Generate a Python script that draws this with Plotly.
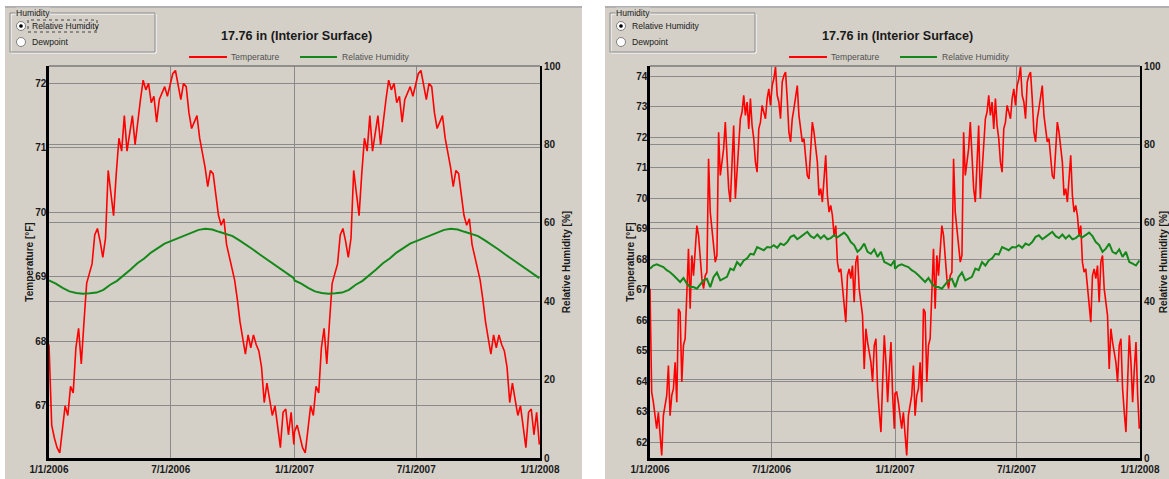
import plotly.graph_objects as go
import pandas as pd

W, H = 1169, 479

# ---------------- data ----------------
title_text = "17.76 in (Interior Surface)"
x_tick_vals = ["2006-01-01", "2006-07-01", "2007-01-01", "2007-07-01", "2008-01-01"]
x_tick_text = ["1/1/2006", "7/1/2006", "1/1/2007", "7/1/2007", "1/1/2008"]

# Left chart: temperature [F], one value every ~4 days
left_temp_2006 = [
    67.95, 66.7, 66.5, 66.35, 66.27, 66.6, 67.0, 66.85, 67.3, 67.2,
    67.9, 68.2, 67.65, 68.3, 68.9, 69.05, 69.2, 69.65, 69.75, 69.55,
    69.3, 69.6, 70.65, 70.3, 69.95, 70.6, 71.15, 70.95, 71.5, 70.95,
    71.2, 71.5, 71.05, 71.45, 71.75, 72.05, 71.9, 72.0, 71.7, 71.8,
    71.4, 71.75, 71.85, 71.95, 71.8, 72.0, 72.15, 72.2, 71.95, 71.75,
    72.0, 71.95, 71.55, 71.3, 71.4, 71.5, 71.15, 70.95, 70.7, 70.4,
    70.65, 70.6, 70.3, 69.95, 69.8, 69.9, 69.5, 69.3, 69.15, 68.95,
    68.65, 68.3, 68.05, 67.8, 68.1, 67.9, 68.1, 67.95, 67.85, 67.6,
    67.05, 67.35, 67.1, 66.85, 67.0, 66.7, 66.35, 66.9, 66.95, 66.55,
    66.9, 66.4,
]
left_temp_2007 = [66.6] + left_temp_2006[1:]

# Left chart: relative humidity [%], one value every ~10 days
left_rh_2006 = [
    45.3, 44.5, 43.4, 42.5, 42.1, 41.9, 42.0, 42.2, 42.9, 44.2,
    45.2, 46.6, 48.1, 49.7, 50.9, 52.4, 53.6, 54.7, 55.4, 56.1,
    56.8, 57.7, 58.2, 58.5, 58.3, 57.7, 57.1, 56.6, 55.5, 54.4,
    53.2, 51.9, 50.7, 49.4, 48.1, 46.9, 45.9,
]
left_rh_2007 = list(left_rh_2006)

# Right chart: temperature [F], one value every ~2.5 days
right_temp_2006 = [
    67.03, 63.64, 63.31, 62.87, 62.44, 62.98, 62.22, 61.56, 62.87, 63.20,
    63.53, 64.51, 62.87, 63.53, 63.75, 64.62, 63.31, 66.37, 66.26, 63.97,
    65.17, 65.39, 67.25, 68.34, 66.37, 68.12, 67.46, 68.45, 69.10, 68.78,
    67.90, 67.36, 67.03, 67.46, 67.57, 71.29, 69.54, 69.00, 68.34, 67.90,
    68.12, 72.16, 70.74, 71.18, 71.62, 72.49, 71.29, 70.31, 69.87, 71.18,
    72.38, 69.98, 70.85, 71.73, 72.60, 72.82, 73.37, 72.71, 73.15, 72.27,
    73.26, 72.38, 71.95, 71.18, 70.85, 72.27, 72.49, 73.04, 72.82, 72.60,
    73.26, 73.58, 73.04, 73.69, 73.91, 74.30, 73.37, 73.15, 72.60, 73.80,
    74.02, 74.13, 73.26, 72.16, 71.84, 72.60, 72.93, 73.37, 73.69, 72.71,
    72.16, 71.84, 71.95, 71.18, 70.74, 70.63, 71.73, 72.49, 72.16, 71.73,
    71.18, 70.09, 70.31, 69.87, 70.52, 71.40, 70.09, 69.54, 69.76, 69.43,
    68.78, 69.10, 67.90, 67.57, 67.68, 67.03, 66.59, 65.93, 67.46, 67.68,
    67.36, 67.79, 66.59, 67.90, 68.12, 67.03, 66.59, 66.15, 64.40, 65.72,
    65.28, 64.95, 64.62, 63.97, 65.17, 65.39, 63.75, 62.98, 62.33, 63.97,
    65.50, 64.62, 63.31, 64.38, 65.28, 63.53, 62.44,
]
right_temp_2007 = [63.6] + right_temp_2006[1:]

# Right chart: relative humidity [%], one value every ~5 days
right_rh_2006 = [
    48.3, 49.1, 49.4, 49.0, 48.7, 47.9, 47.4, 46.6, 45.7, 44.9,
    45.9, 44.5, 43.6, 43.6, 43.2, 44.2, 45.3, 45.7, 43.6, 46.2,
    47.3, 45.3, 45.7, 46.2, 48.3, 47.9, 50.0, 49.1, 50.4, 50.9,
    52.1, 51.9, 53.8, 53.4, 53.0, 53.8, 53.7, 54.3, 53.6, 54.7,
    54.3, 55.1, 56.4, 56.8, 55.8, 56.4, 57.0, 57.7, 56.6, 56.1,
    57.0, 56.0, 56.8, 55.8, 56.1, 56.8, 56.3, 56.8, 57.5, 56.6,
    55.1, 54.3, 52.6, 53.4, 54.7, 52.6, 52.1, 53.2, 51.3, 52.6,
    50.0, 49.6, 49.1, 50.4,
]
right_rh_2007 = list(right_rh_2006)

left_temp_range = [66.19, 72.27]
right_temp_range = [61.48, 74.33]
rh_range = [0, 100]

# ---------------- styling ----------------
FONT = "Liberation Sans, Arial, sans-serif"
PANEL = "#d4d0c8"
GRID = "#8a8a8a"
INK = "#1a1a1a"
RED = "#ff0000"
GREEN = "#14891a"


def fx(px):
    return px / W


def fy(py):
    return 1 - py / H


def two_year_dates(n1, n2):
    d1 = pd.date_range("2006-01-01", "2006-12-31", periods=n1)
    d2 = pd.date_range("2007-01-01", "2007-12-31", periods=n2)
    return list(d1) + list(d2)


fig = go.Figure()

series = [
    (left_temp_2006, left_temp_2007, "Temperature", RED, 1.6, "x", "y"),
    (left_rh_2006, left_rh_2007, "Relative Humidity", GREEN, 2.0, "x", "y2"),
    (right_temp_2006, right_temp_2007, "Temperature", RED, 1.6, "x2", "y3"),
    (right_rh_2006, right_rh_2007, "Relative Humidity", GREEN, 2.0, "x2", "y4"),
]
for v1, v2, name, color, width, xa, ya in series:
    fig.add_trace(go.Scatter(
        x=two_year_dates(len(v1), len(v2)), y=v1 + v2, mode="lines", name=name,
        line=dict(color=color, width=width), xaxis=xa, yaxis=ya, showlegend=False,
    ))

tickfont = dict(family=FONT, size=10, color=INK, weight="bold")
titlefont = dict(family=FONT, size=10, color=INK, weight="bold")

panels = [  # (x left px, x right px)
    (49, 540),
    (650, 1140),
]
y_dom = [fy(458), fy(66)]


def xaxis(dom):
    return dict(domain=dom, type="date", range=["2006-01-01", "2008-01-01"],
                tickvals=x_tick_vals, ticktext=x_tick_text, showgrid=True,
                gridcolor=GRID, gridwidth=1, showline=True, linecolor="black",
                linewidth=2.5, ticks="", tickfont=tickfont, zeroline=False,
                fixedrange=True, automargin=False)


def temp_axis(anchor, rng):
    return dict(domain=y_dom, anchor=anchor, range=rng, dtick=1, tick0=60,
                showgrid=True, gridcolor=GRID, gridwidth=1, showline=True,
                linecolor="black", linewidth=2.5, ticks="", tickfont=tickfont,
                ticklabelstandoff=-2,
                zeroline=False, fixedrange=True, automargin=False,
                title=dict(text="Temperature [°F]", font=titlefont, standoff=0))


def rh_axis(anchor, over):
    return dict(overlaying=over, anchor=anchor, side="right", range=rh_range,
                dtick=20, tick0=0, showgrid=True, gridcolor=GRID, gridwidth=1,
                showline=True, linecolor="black", linewidth=2, ticks="",
                tickfont=tickfont, zeroline=False, fixedrange=True, automargin=False,
                title=dict(text="Relative Humidity [%]", font=titlefont, standoff=3))


shapes = []
annotations = []

# panel backgrounds
for x0, x1 in [(5, 582), (605, 1169)]:
    shapes.append(dict(type="rect", xref="paper", yref="paper", x0=fx(x0), x1=fx(x1),
                       y0=fy(479), y1=fy(6), fillcolor=PANEL, line=dict(width=0), layer="below"))
    shapes.append(dict(type="line", xref="paper", yref="paper", x0=fx(x0), x1=fx(x1),
                       y0=fy(7), y1=fy(7), line=dict(color="#b0b0b0", width=2), layer="below"))

for i, (pl, pr) in enumerate(panels):
    off = 0 if i == 0 else 600
    # top border of plot frame
    shapes.append(dict(type="line", xref="paper", yref="paper", x0=fx(pl), x1=fx(pr),
                       y0=fy(66), y1=fy(66), line=dict(color="#7a7a7a", width=1.5)))
    # title
    annotations.append(dict(text=title_text, xref="paper", yref="paper",
                            x=fx((pl + pr) / 2 + 2), y=fy(36), showarrow=False,
                            xanchor="center", yanchor="middle",
                            font=dict(family=FONT, size=12.6, color=INK, weight="bold")))
    # legend
    for lx0, lx1, tx, color, name in [(189, 227, 229, RED, "Temperature"),
                                       (300, 337, 340, GREEN, "Relative Humidity")]:
        shapes.append(dict(type="line", xref="paper", yref="paper", x0=fx(lx0 + off),
                           x1=fx(lx1 + off), y0=fy(57), y1=fy(57),
                           line=dict(color=color, width=2)))
        annotations.append(dict(text=name, xref="paper", yref="paper", x=fx(tx + off),
                                y=fy(57), showarrow=False, xanchor="left", yanchor="middle",
                                font=dict(family=FONT, size=8.6, color="#505050")))
    # group box "Humidity"
    gx0, gx1 = 10 + off, 155 + off
    shapes.append(dict(type="rect", xref="paper", yref="paper", x0=fx(gx0 + 1), x1=fx(gx1 + 1),
                       y0=fy(53), y1=fy(14), line=dict(color="#ffffff", width=1)))
    shapes.append(dict(type="rect", xref="paper", yref="paper", x0=fx(gx0), x1=fx(gx1),
                       y0=fy(52), y1=fy(13), line=dict(color="#8c8c8c", width=1)))
    annotations.append(dict(text="Humidity", xref="paper", yref="paper", x=fx(15 + off),
                            y=fy(13.5), showarrow=False, xanchor="left", yanchor="middle",
                            bgcolor=PANEL, borderpad=0,
                            font=dict(family=FONT, size=8.6, color=INK)))
    for ry, label, checked in [(26, "Relative Humidity", True), (42, "Dewpoint", False)]:
        cx = 21 + off
        shapes.append(dict(type="circle", xref="paper", yref="paper", x0=fx(cx - 4.5),
                           x1=fx(cx + 4.5), y0=fy(ry + 4.5), y1=fy(ry - 4.5),
                           fillcolor="#ffffff", line=dict(color="#7f7f7f", width=1)))
        if checked:
            shapes.append(dict(type="circle", xref="paper", yref="paper", x0=fx(cx - 1.6),
                               x1=fx(cx + 1.6), y0=fy(ry + 1.6), y1=fy(ry - 1.6),
                               fillcolor="#000000", line=dict(color="#000000", width=0.5)))
        annotations.append(dict(text=label, xref="paper", yref="paper", x=fx(29.5 + off),
                                y=fy(ry), showarrow=False, xanchor="left", yanchor="middle",
                                font=dict(family=FONT, size=8.6, color=INK)))
    if i == 0:
        shapes.append(dict(type="rect", xref="paper", yref="paper", x0=fx(28), x1=fx(97),
                           y0=fy(32), y1=fy(20), line=dict(color="#444444", width=1, dash="dot")))

fig.update_layout(
    width=W, height=H,
    margin=dict(l=0, r=0, t=0, b=0, autoexpand=False),
    paper_bgcolor="#ffffff",
    plot_bgcolor="rgba(0,0,0,0)",
    font=dict(family=FONT, size=10, color=INK),
    showlegend=False,
    xaxis=dict(xaxis([fx(49), fx(540)]), anchor="y"),
    yaxis=temp_axis("x", left_temp_range),
    yaxis2=rh_axis("x", "y"),
    xaxis2=dict(xaxis([fx(650), fx(1140)]), anchor="y3"),
    yaxis3=temp_axis("x2", right_temp_range),
    yaxis4=rh_axis("x2", "y3"),
    shapes=shapes,
    annotations=annotations,
)

fig.write_html(
    "out.html",
    config={"displayModeBar": False},
    post_script="document.body.style.margin='0';document.body.style.overflow='hidden';",
)
